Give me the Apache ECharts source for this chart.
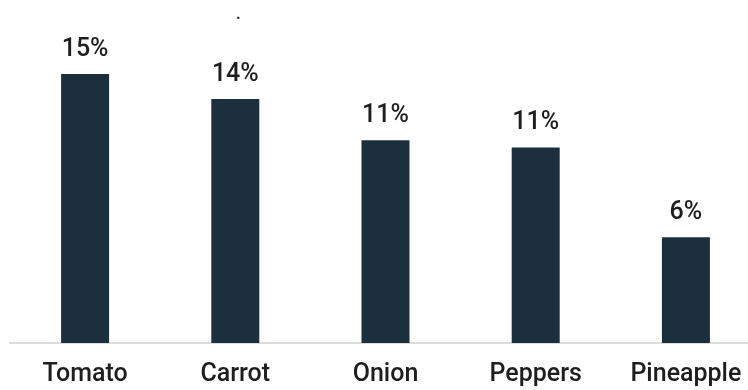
<!DOCTYPE html>
<html>
<head>
<meta charset="utf-8">
<script src="https://cdn.jsdelivr.net/npm/echarts@6/dist/echarts.min.js"></script>
<style>
  html, body { margin: 0; padding: 0; background: #ffffff; overflow: hidden; }
  /* the canvas runs a little past the window so the axis line bleeds off the right edge */
  #chart { width: 761px; height: 390px; }
</style>
</head>
<body>
<div id="chart"></div>
<script>
// Share of each produce item (percent)
const categories = ['Tomato', 'Carrot', 'Onion', 'Peppers', 'Pineapple'];
const shares = [15.0, 13.6, 11.3, 10.9, 5.9];

const chart = echarts.init(document.getElementById('chart'), null, { renderer: 'canvas' });

chart.setOption({
  animation: false,
  backgroundColor: '#ffffff',
  textStyle: { fontFamily: 'Roboto, "Noto Sans", sans-serif' },
  title: {
    text: '.',
    left: 231,
    top: 2,
    textStyle: { fontSize: 16, color: '#1c2f3d', fontWeight: 'bold' }
  },
  grid: { left: 10, right: 0, top: 74, bottom: 47, containLabel: false },
  xAxis: {
    type: 'category',
    data: categories,
    axisLine: { show: true, lineStyle: { color: '#dcdcdc', width: 2 } },
    axisTick: { show: false },
    axisLabel: {
      margin: 19,
      fontSize: 25,
      fontWeight: 500,
      color: '#1e1e1e',
      fontFamily: 'Roboto, sans-serif'
    }
  },
  yAxis: {
    type: 'value',
    min: 0,
    max: 15,
    show: false,
    splitLine: { show: false }
  },
  series: [{
    type: 'bar',
    data: shares,
    barWidth: 48,
    itemStyle: { color: '#1c2f3d' },
    label: {
      show: true,
      position: 'top',
      distance: 12,
      fontSize: 25,
      fontWeight: 500,
      color: '#1e1e1e',
      fontFamily: 'Roboto, sans-serif',
      formatter: p => Math.round(p.value) + '%'
    }
  }]
});
</script>
</body>
</html>
